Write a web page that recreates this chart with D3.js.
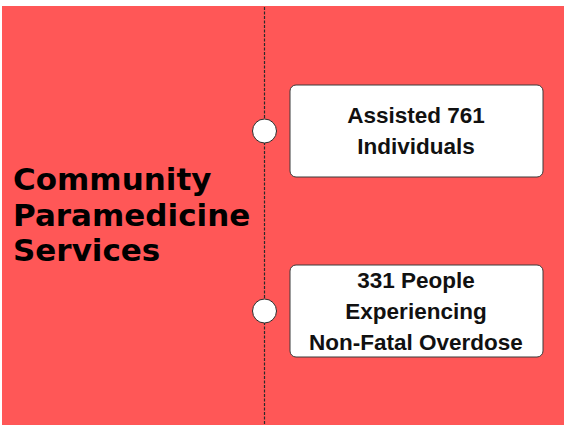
<!DOCTYPE html>
<html>
<head>
<meta charset="utf-8">
<script src="https://cdn.jsdelivr.net/npm/d3@7"></script>
<style>
  body { margin: 0; background: #fff; }
</style>
</head>
<body>
<div id="chart"></div>
<script>
// data
var titleLines = ["Community", "Paramedicine", "Services"];
var items = ["Assisted 761 Individuals", "331 People Experiencing Non-Fatal Overdose"];
var itemValues = [761, 331];
var itemLines = [["Assisted 761", "Individuals"], ["331 People", "Experiencing", "Non-Fatal Overdose"]];

var width = 564, height = 427;
var red = "#ff5757";

var svg = d3.select("#chart")
	.append("svg")
	.attr("width", width)
	.attr("height", height);

// background panel
svg.append("rect")
	.attr("x", 2)
	.attr("y", 6)
	.attr("width", width - 2)
	.attr("height", 419)
	.style("fill", red);

var lineX = 264.5;

// timeline
svg.append("line")
	.attr("x1", lineX)
	.attr("x2", lineX)
	.attr("y1", 7)
	.attr("y2", 425)
	.style("stroke", "#2a2a2a")
	.style("stroke-width", 1.2)
	.style("stroke-dasharray", "3,1.5");

// title
var title = svg.append("text")
	.style("font-family", "DejaVu Sans")
	.style("font-weight", "bold")
	.style("font-size", "31px")
	.style("fill", "#000");
titleLines.forEach(function(t, i) {
	title.append("tspan")
		.attr("x", 13)
		.attr("y", 190 + i * 35.5)
		.text(t);
});

var y = d3.scalePoint()
	.domain(items)
	.range([131, 311]);

var boxH = [92, 92];
var boxX = 290, boxW = 253;

items.forEach(function(name, i) {
	var cy = y(name);
	var g = svg.append("g").attr("class", "item").attr("data-value", itemValues[i]);

	g.append("rect")
		.attr("x", boxX)
		.attr("y", cy - boxH[i] / 2)
		.attr("width", boxW)
		.attr("height", boxH[i])
		.attr("rx", 6)
		.style("fill", "#fff")
		.style("stroke", "#3a3a3a")
		.style("stroke-width", 1);

	g.append("circle")
		.attr("cx", lineX)
		.attr("cy", cy)
		.attr("r", 12)
		.style("fill", "#fff")
		.style("stroke", "#2a2a2a")
		.style("stroke-width", 1);

	var lines = itemLines[i];
	var lh = 31;
	var first = cy - (lines.length - 1) * lh / 2 + 7.5;
	var txt = g.append("text")
		.attr("text-anchor", "middle")
		.style("font-family", "Liberation Sans")
		.style("font-weight", "bold")
		.style("font-size", "22.5px")
		.style("fill", "#111");
	lines.forEach(function(l, j) {
		txt.append("tspan")
			.attr("x", boxX + boxW / 2 - 0.5)
			.attr("y", first + j * lh)
			.text(l);
	});
});
</script>
</body>
</html>
